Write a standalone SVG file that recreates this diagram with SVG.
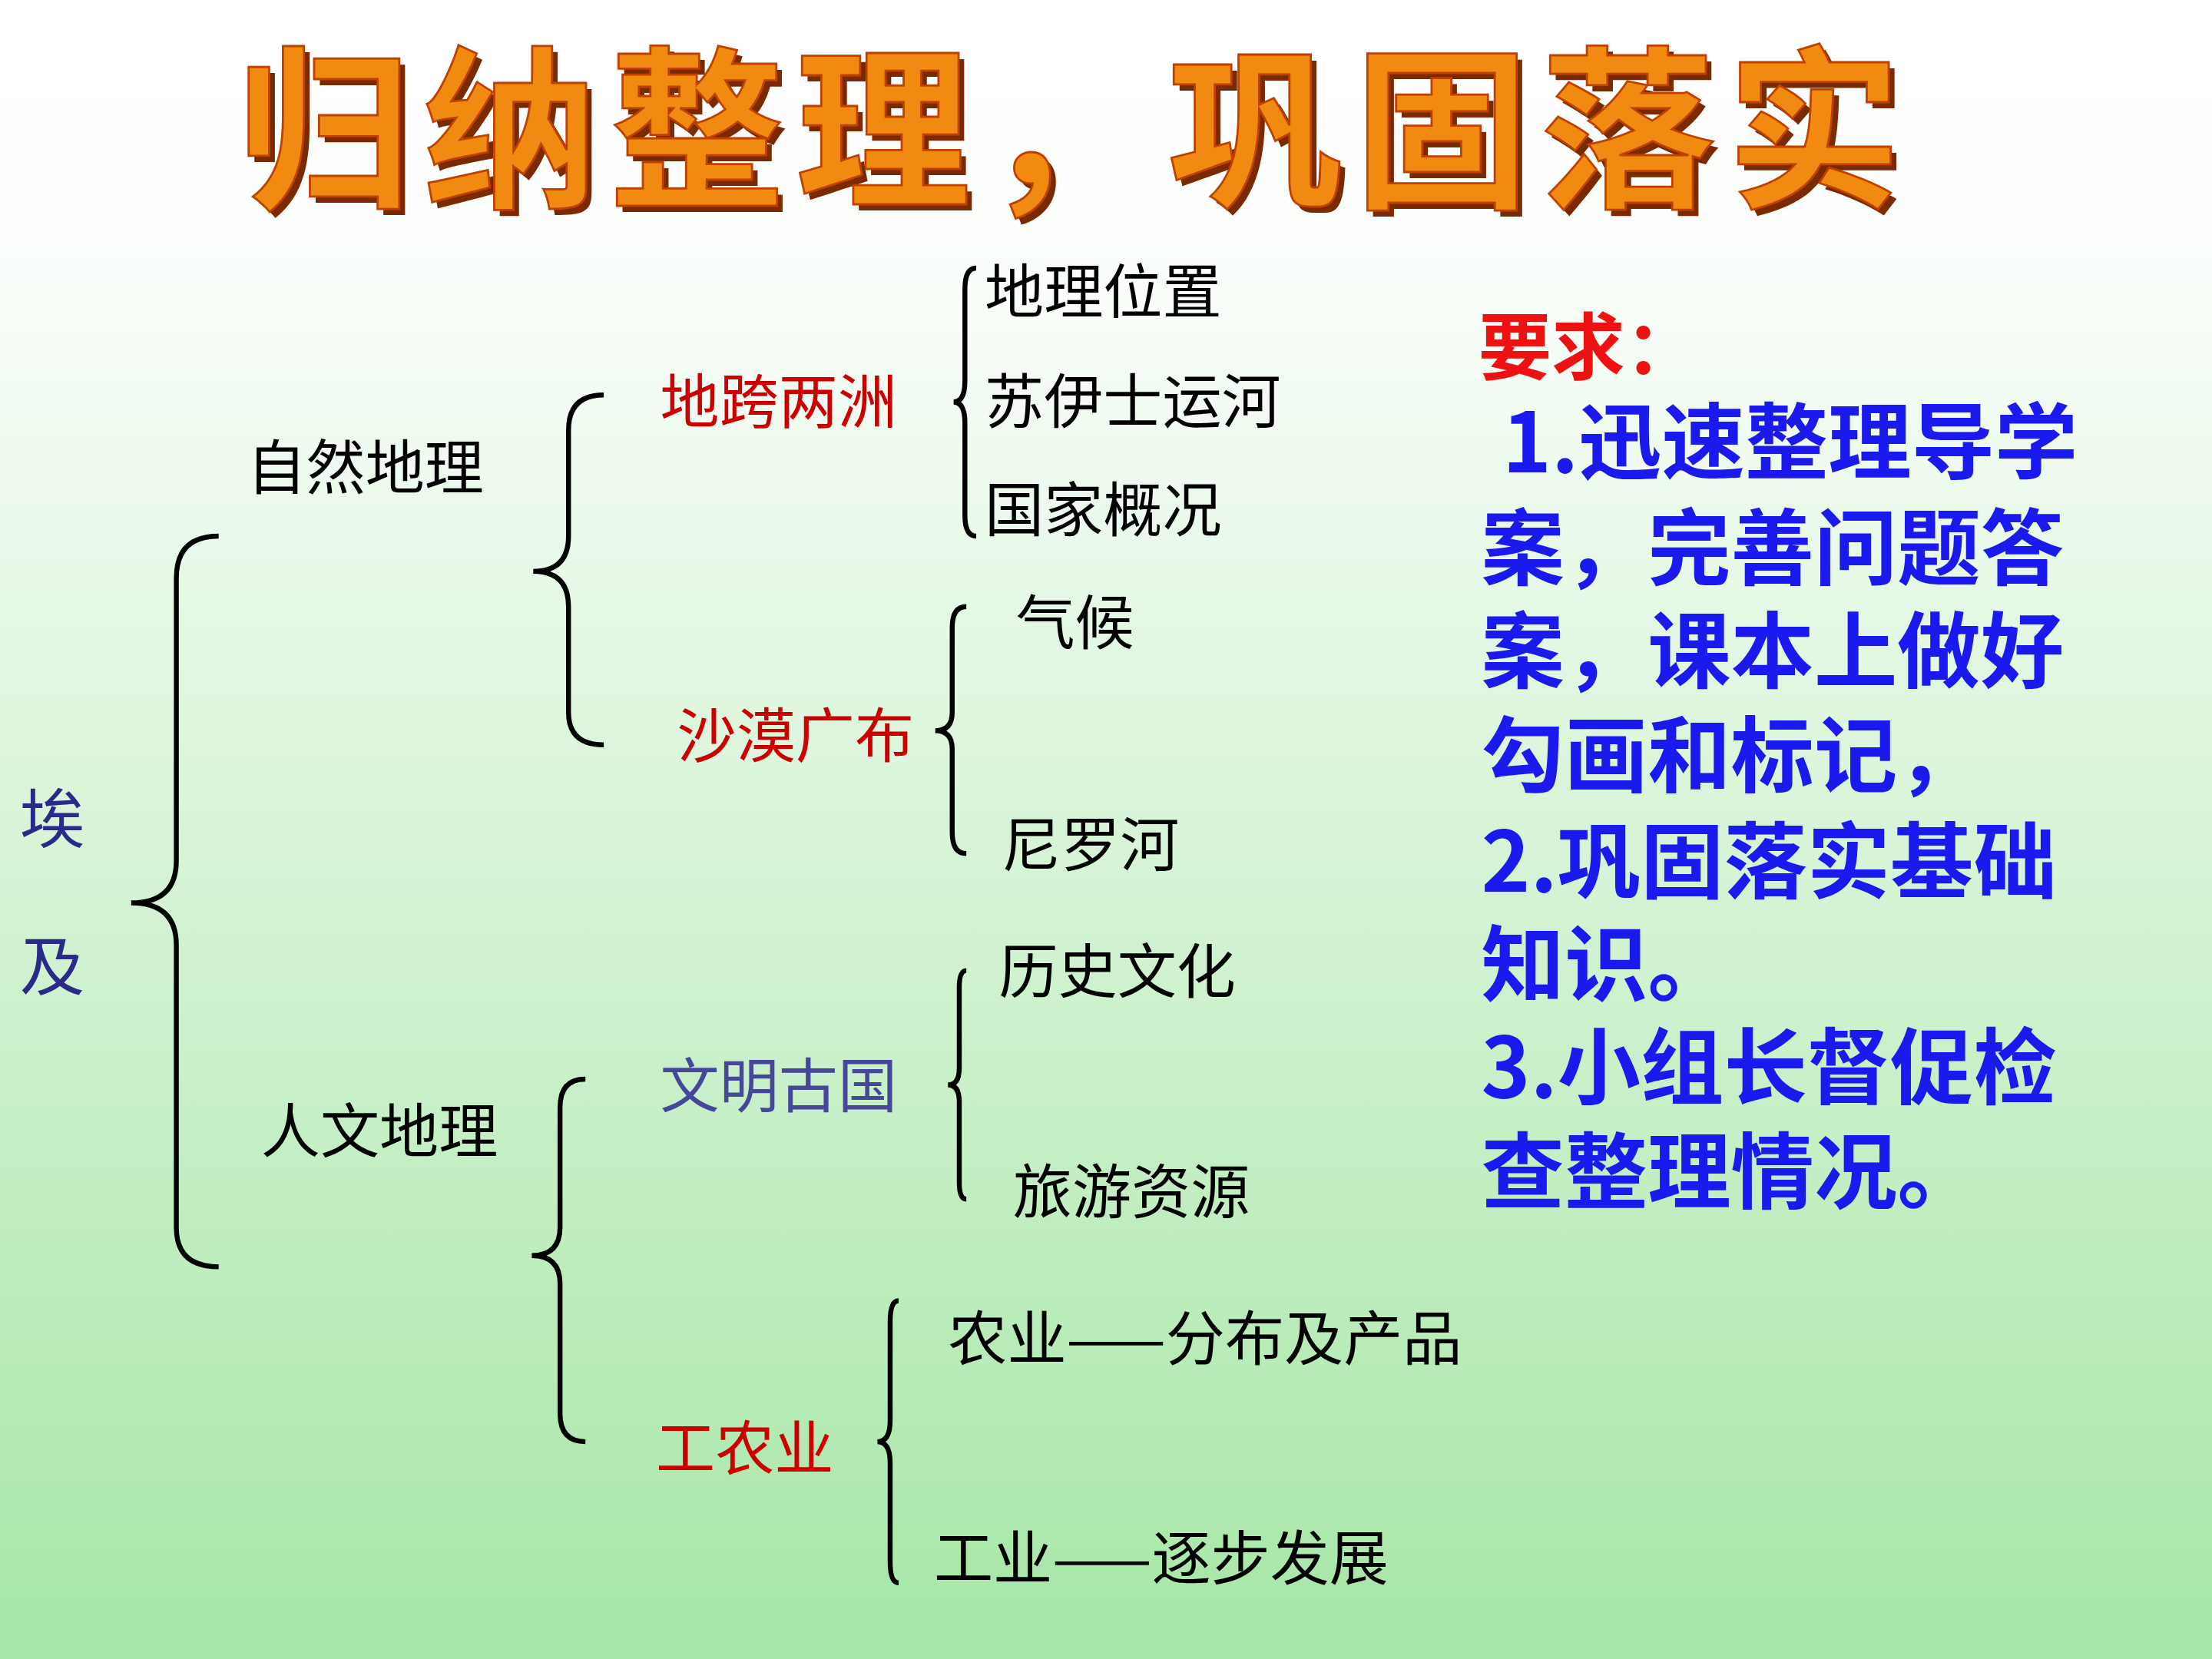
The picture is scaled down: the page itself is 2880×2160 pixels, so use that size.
<svg xmlns="http://www.w3.org/2000/svg" width="2880" height="2160" viewBox="0 0 2880 2160">
<defs>
<linearGradient id="bg" x1="0" y1="0" x2="0" y2="1">
<stop offset="0" stop-color="#ffffff"/><stop offset="0.15" stop-color="#fbfefb"/><stop offset="1" stop-color="#a6e6a6"/>
</linearGradient>
<style>
text{font-family:"Noto Sans CJK SC","Liberation Sans",sans-serif}
.k{font-size:42px;fill:#000}
.r{font-size:42px;fill:#cc0000}
.b{font-size:59px;fill:#1a1aee;font-weight:bold}
.br{fill:none;stroke:#000;stroke-width:3.5}
.t{font-size:124px;font-weight:bold;fill:#f08a10}
.ts{font-size:124px;font-weight:bold;fill:#7a2a00}
</style>
</defs>
<rect width="2880" height="2160" fill="url(#bg)"/>
<g transform="scale(1.8367)">
<g id="title">
<text class="ts" x="172" y="142" textLength="1180">归纳整理，巩固落实</text>
<text class="t" x="168" y="138" textLength="1180" stroke="#c04000" stroke-width="1.5">归纳整理，巩固落实</text>
</g>
<g id="egypt"><text x="14" y="597" style="font-size:46px;fill:#2a2a8a">埃</text><text x="14" y="702" style="font-size:46px;fill:#2a2a8a">及</text></g>
<g id="connectors">
<path class="br" d="M155,380 Q125,380 125,410 L125,610 Q125,640 93,640 Q125,640 125,670 L125,870 Q125,898 155,898"/>
<path class="br" d="M428,280 Q403,280 403,305 L403,380 Q403,405 378,405 Q403,405 403,430 L403,505 Q403,528 428,528"/>
<path class="br" d="M415,765 Q397,765 397,785 L397,870 Q397,890 377,890 Q397,890 397,910 L397,1002 Q397,1022 415,1022"/>
<path class="br" d="M692,190 Q684,190 684,205 L684,270 Q684,285 676,285 Q684,285 684,300 L684,365 Q684,380 692,380"/>
<path class="br" d="M685,430 Q675,430 675,445 L675,505 Q675,518 663,518 Q675,518 675,531 L675,590 Q675,605 685,605"/>
<path class="br" d="M685,688 Q680,688 680,700 L680,757 Q680,769 672,769 Q680,769 680,781 L680,838 Q680,850 685,850"/>
<path class="br" d="M637,922 Q631,922 631,937 L631,1007 Q631,1022 622,1022 Q631,1022 631,1037 L631,1107 Q631,1122 637,1122"/>
</g>
<g id="n1"><text class="k" x="175" y="347">自然地理</text></g>
<g id="n2"><text class="k" x="185" y="817">人文地理</text></g>
<g id="n3"><text class="r" x="468" y="300">地跨两洲</text></g>
<g id="n4"><text class="r" x="480" y="537">沙漠广布</text></g>
<g id="n5"><text x="468" y="785" style="font-size:42px;fill:#46469a">文明古国</text></g>
<g id="n6"><text class="r" x="465" y="1042">工农业</text></g>
<g id="n7"><text class="k" x="698" y="222">地理位置</text><text class="k" x="698" y="300">苏伊士运河</text><text class="k" x="698" y="377">国家概况</text></g>
<g id="n8"><text class="k" x="720" y="457">气候</text><text class="k" x="710" y="614">尼罗河</text></g>
<g id="n9"><text class="k" x="708" y="704">历史文化</text><text class="k" x="718" y="860">旅游资源</text></g>
<g id="n10"><text class="k" x="672" y="964">农业——分布及产品</text><text class="k" x="662" y="1120">工业——逐步发展</text></g>
<g id="req">
<text x="1048" y="265" style="font-size:52px;font-weight:bold;fill:#ee1111">要求：</text>
<text class="b" x="1065" y="335">1.迅速整理导学</text>
<text class="b" x="1050" y="410">案，完善问题答</text>
<text class="b" x="1050" y="483">案，课本上做好</text>
<text class="b" x="1050" y="557">勾画和标记，</text>
<text class="b" x="1050" y="632">2.巩固落实基础</text>
<text class="b" x="1050" y="705">知识。</text>
<text class="b" x="1050" y="778">3.小组长督促检</text>
<text class="b" x="1050" y="852">查整理情况。</text>
</g>
</g>
</svg>
